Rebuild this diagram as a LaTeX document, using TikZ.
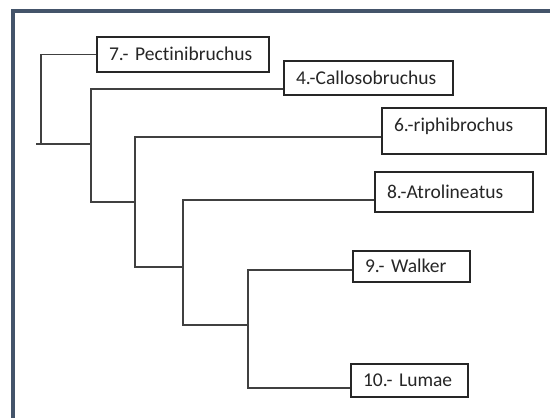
\documentclass[tikz,border=0pt]{standalone}
\usepackage{fontspec}
\setmainfont{Carlito}[Ligatures=NoCommon]
\begin{document}
\begin{tikzpicture}[x=1pt,y=-1pt,
  taxon/.style={draw=black!85, line width=1.2pt, fill=white, align=left,
    inner xsep=12pt, inner ysep=0pt, text=black!85,
    font=\fontsize{19.5}{23}\selectfont, text height=14pt, text depth=2pt},
  branch/.style={draw=black!75, line width=1.2pt}]
% page and frame
\fill[white] (0,0) rectangle (550,418);
\useasboundingbox (0,0) rectangle (550,418);
\draw[line width=4pt, color={rgb,255:red,68;green,84;blue,106}]
  (13,418) -- (13,11) -- (550,11);

% leaf boxes
\node[taxon, minimum width=172pt, minimum height=35pt, text width=148pt] (b7) at (183,54.5) {7.- Pectinibruchus};
\node[taxon, minimum width=169pt, minimum height=34pt, text width=145pt] (b4) at (368.5,78) {4.-Callosobruchus};
\node[taxon, minimum width=164pt, minimum height=46pt, text width=140pt, text depth=14pt] (b6) at (464,131) {6.-riphibrochus};
\node[taxon, minimum width=158pt, minimum height=40pt, text width=134pt] (b8) at (454,192) {8.-Atrolineatus};
\node[taxon, minimum width=117pt, minimum height=31pt, text width=93pt] (b9) at (411.5,266.5) {9.- Walker};
\node[taxon, minimum width=117pt, minimum height=33pt, text width=93pt] (b10) at (409.5,380.5) {10.- Lumae};

% branch junctions
\coordinate (root) at (41,144);
\coordinate (stub) at (36,144);
\coordinate (n1m) at (91,144);
\coordinate (n1b) at (91,202);
\coordinate (n2m) at (135,202);
\coordinate (n2b) at (135,267);
\coordinate (n3m) at (183,267);
\coordinate (n3b) at (183,325);
\coordinate (n4m) at (248,325);
\coordinate (n4b) at (248,388);

% tree (yshift is in page direction, so downward offsets are negative)
\draw[branch] (b7.west) -| (root);
\draw[branch] (stub) -- (n1m);
\draw[branch] ([yshift=-11pt]b4.west) -| (n1b) -- (n2m);
\draw[branch] ([yshift=-6pt]b6.west) -| (n2b) -- (n3m);
\draw[branch] ([yshift=-8pt]b8.west) -| (n3b) -- (n4m);
\draw[branch] ([yshift=-3.5pt]b9.west) -| (n4b) -- ([yshift=-7.5pt]b10.west);
\end{tikzpicture}
\end{document}
